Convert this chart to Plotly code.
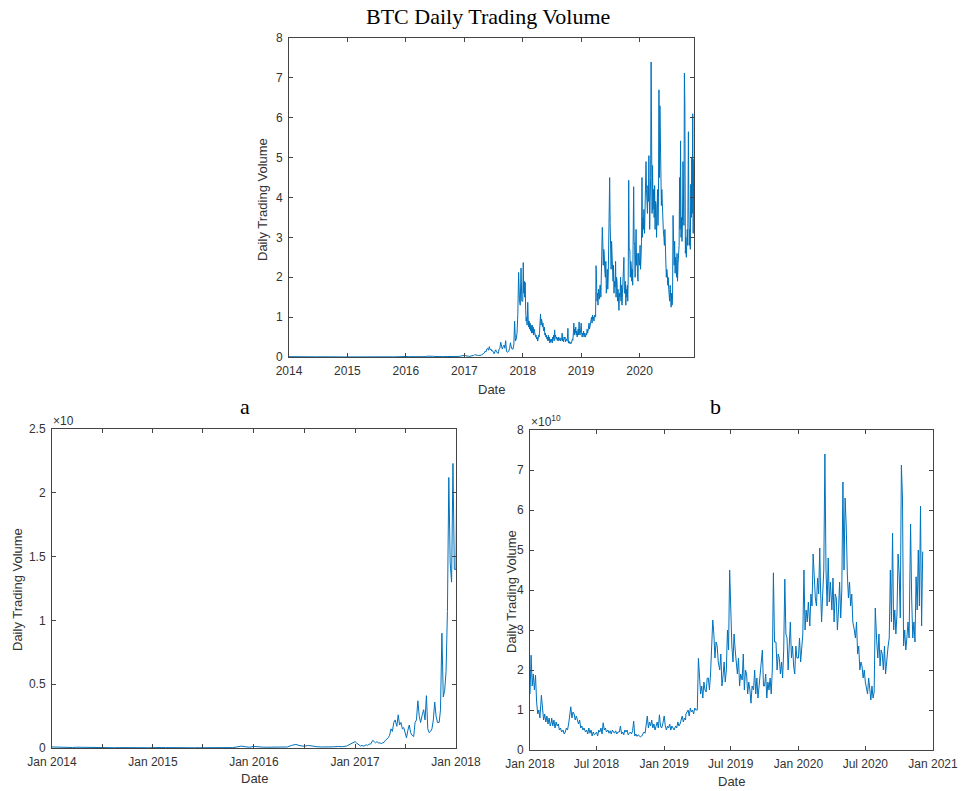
import plotly.graph_objects as go
from datetime import date

# ---------------- data (units of 1e10) ----------------
# 2014-2016: two samples per month (days 1 and 16)
vol_2014 = [0.008, 0.006, 0.009, 0.007, 0.005, 0.004, 0.006, 0.005, 0.004, 0.004, 0.006, 0.004,
            0.005, 0.003, 0.003, 0.002, 0.003, 0.002, 0.002, 0.003, 0.002, 0.002, 0.003, 0.002]
vol_2015 = [0.003, 0.006, 0.004, 0.003, 0.002, 0.003, 0.002, 0.002, 0.002, 0.002, 0.002, 0.002,
            0.003, 0.004, 0.003, 0.003, 0.004, 0.003, 0.004, 0.003, 0.008, 0.015, 0.010, 0.006]
vol_2016 = [0.012, 0.008, 0.007, 0.006, 0.006, 0.005, 0.005, 0.006, 0.008, 0.020, 0.028, 0.018,
            0.014, 0.020, 0.012, 0.010, 0.008, 0.007, 0.008, 0.009, 0.012, 0.010, 0.015, 0.030]
# 2017: six samples per month (days 1, 6, 11, 16, 21, 26)
vol_2017 = [0.05, 0.04, 0.03, 0.02, 0.015, 0.02,
            0.015, 0.02, 0.025, 0.02, 0.03, 0.03,
            0.04, 0.06, 0.05, 0.04, 0.05, 0.04,
            0.04, 0.035, 0.04, 0.045, 0.06, 0.07,
            0.08, 0.10, 0.15, 0.13, 0.20, 0.22,
            0.17, 0.26, 0.18, 0.20, 0.15, 0.16,
            0.12, 0.08, 0.14, 0.18, 0.12, 0.10,
            0.09, 0.20, 0.22, 0.37, 0.25, 0.20,
            0.26, 0.30, 0.22, 0.41, 0.15, 0.12,
            0.13, 0.15, 0.22, 0.36, 0.25, 0.20,
            0.20, 0.30, 0.90, 0.40, 0.45, 0.60,
            1.07, 2.12, 1.45, 1.30, 2.23, 1.40]
# 2018-2020: ten samples per month (days 1, 4, 7, ..., 28)
vol_2018 = [1.40, 2.37, 1.60, 1.90, 1.50, 1.87, 1.20, 0.90, 1.00, 0.80,
            1.37, 0.95, 0.75, 0.90, 0.70, 0.85, 0.65, 0.80, 0.60, 0.70,
            0.80, 0.60, 0.75, 0.55, 0.70, 0.60, 0.65, 0.50, 0.55, 0.45,
            0.50, 0.40, 0.45, 0.55, 0.50, 0.65, 0.90, 1.08, 0.80, 0.95,
            0.90, 0.75, 0.85, 0.70, 0.65, 0.75, 0.55, 0.60, 0.50, 0.55,
            0.45, 0.50, 0.40, 0.55, 0.42, 0.50, 0.35, 0.45, 0.38, 0.40,
            0.45, 0.35, 0.50, 0.45, 0.55, 0.40, 0.68, 0.50, 0.55, 0.45,
            0.50, 0.42, 0.48, 0.40, 0.50, 0.45, 0.42, 0.48, 0.40, 0.45,
            0.45, 0.60, 0.40, 0.45, 0.38, 0.50, 0.45, 0.50, 0.38, 0.42,
            0.45, 0.40, 0.48, 0.72, 0.35, 0.40, 0.34, 0.38, 0.35, 0.33,
            0.35, 0.40, 0.45, 0.42, 0.60, 0.85, 0.55, 0.70, 0.60, 0.75,
            0.55, 0.65, 0.50, 0.60, 0.70, 0.55, 0.88, 0.60, 0.55, 0.65]
vol_2019 = [0.85, 0.60, 0.50, 0.60, 0.55, 0.65, 0.50, 0.60, 0.55, 0.50,
            0.60, 0.55, 0.70, 0.60, 0.65, 0.75, 0.85, 0.70, 0.80, 0.75,
            0.90, 0.95, 1.00, 0.85, 1.05, 0.95, 1.00, 0.90, 1.05, 1.00,
            1.00, 2.29, 1.70, 1.40, 1.60, 1.30, 1.70, 1.50, 1.45, 1.80,
            1.80, 1.50, 1.90, 2.90, 3.25, 2.90, 2.30, 2.70, 2.60, 2.20,
            2.00, 2.40, 1.60, 1.85, 2.20, 1.70, 2.00, 3.00, 2.50, 4.50,
            3.35, 2.60, 2.20, 2.90, 2.50, 2.10, 1.90, 2.30, 1.60, 1.90,
            1.75, 2.40, 1.50, 2.00, 1.90, 1.40, 1.70, 1.50, 1.17, 1.60,
            1.50, 2.00, 1.40, 1.80, 1.30, 1.60, 1.90, 2.00, 2.50, 1.60,
            1.60, 1.90, 1.30, 1.70, 1.50, 1.80, 1.40, 2.00, 4.43, 2.70,
            2.70, 2.00, 2.40, 2.30, 1.90, 2.20, 1.80, 2.50, 4.27, 2.90,
            2.80, 2.00, 2.50, 3.20, 2.30, 2.60, 2.10, 1.90, 2.60, 2.30]
vol_2020 = [2.30, 2.80, 2.20, 2.50, 2.90, 4.50, 3.00, 3.50, 3.20, 3.70,
            3.10, 3.90, 3.60, 4.90, 4.20, 3.80, 3.60, 4.30, 3.90, 5.05,
            4.10, 3.20, 3.90, 4.50, 7.40, 4.50, 3.60, 4.80, 3.70, 4.20,
            3.50, 4.30, 3.20, 3.90, 3.80, 3.00, 3.50, 4.20, 3.30, 4.00,
            6.70, 4.50, 6.30, 5.60, 4.40, 3.80, 4.20, 3.60, 3.90, 3.20,
            3.00, 2.80, 3.20, 2.40, 2.60, 2.00, 2.20, 2.10, 1.80, 2.00,
            1.70, 1.50, 1.40, 1.80, 1.50, 1.25, 1.60, 1.30, 1.45, 3.55,
            2.70, 2.30, 2.90, 2.10, 2.50, 2.40, 2.00, 2.60, 1.90, 2.30,
            2.60, 2.80, 4.50, 3.20, 5.42, 3.00, 3.50, 2.90, 3.40, 4.90,
            4.40, 3.30, 7.12, 6.30, 2.60, 3.00, 2.50, 2.80, 3.20, 2.80,
            5.65, 3.80, 2.80, 3.20, 2.70, 4.33, 3.50, 5.00, 3.60, 6.10,
            3.10, 4.96]

# ---------------- build the sampled date series ----------------
def sample_dates(year, days):
    return [date(year, m, d).isoformat() for m in range(1, 13) for d in days]

dates, vols = [], []
for yr, v in [(2014, vol_2014), (2015, vol_2015), (2016, vol_2016)]:
    dates += sample_dates(yr, (1, 16))[:len(v)]
    vols += v
dates += sample_dates(2017, (1, 6, 11, 16, 21, 26))[:len(vol_2017)]
vols += vol_2017
for yr, v in [(2018, vol_2018), (2019, vol_2019), (2020, vol_2020)]:
    dates += sample_dates(yr, (1, 4, 7, 10, 13, 16, 19, 22, 25, 28))[:len(v)]
    vols += v

W, H = 961, 791
def px(x): return x / W
def py(y): return 1 - y / H

LINE = dict(color="#0072BD", width=1)
fig = go.Figure()
for xa, ya in [("x", "y"), ("x2", "y2"), ("x3", "y3")]:
    fig.add_trace(go.Scatter(x=dates, y=vols, mode="lines", line=LINE,
                             xaxis=xa, yaxis=ya, showlegend=False))

TICKFONT = dict(family="Liberation Sans, Arial, sans-serif", size=12, color="#333333")
def ax(**kw):
    d = dict(showline=True, linecolor="#444444", linewidth=1, mirror="ticks", ticks="inside",
             ticklen=4, tickcolor="#444444", showgrid=False, zeroline=False, tickfont=TICKFONT,
             fixedrange=True, automargin=False, ticklabelstandoff=3)
    d.update(kw)
    return d

a_tickvals = ["2014-01-01", "2014-07-01", "2015-01-01", "2015-07-01", "2016-01-01",
              "2016-07-01", "2017-01-01", "2017-07-01", "2018-01-01"]
a_ticktext = ["Jan 2014", "", "Jan 2015", "", "Jan 2016", "", "Jan 2017", "", "Jan 2018"]

fig.update_layout(
    width=W, height=H, margin=dict(l=0, r=0, t=0, b=0, autoexpand=False),
    paper_bgcolor="white", plot_bgcolor="white",
    xaxis=ax(domain=[px(289), px(694)], anchor="y", type="date",
             range=["2014-01-01", "2020-12-06"], dtick="M12", tick0="2014-01-01", tickformat="%Y"),
    yaxis=ax(domain=[py(357), py(38)], anchor="x", range=[0, 8], dtick=1),
    xaxis2=ax(domain=[px(52), px(456)], anchor="y2", type="date",
              range=["2014-01-01", "2018-01-01"], tickvals=a_tickvals, ticktext=a_ticktext),
    yaxis2=ax(domain=[py(748), py(429)], anchor="x2", range=[0, 2.5], dtick=0.5),
    xaxis3=ax(domain=[px(530), px(933)], anchor="y3", type="date",
              range=["2018-01-01", "2021-01-01"], dtick="M6", tick0="2018-01-01", tickformat="%b %Y"),
    yaxis3=ax(domain=[py(750), py(430)], anchor="x3", range=[0, 8], dtick=1),
)

LABEL = dict(family="Liberation Sans, Arial, sans-serif", size=13, color="#333333")
SERIF = dict(family="Liberation Serif, Times New Roman, serif", size=22, color="black")
def ann(text, x, y, font, angle=0, xanchor="center", yanchor="middle"):
    fig.add_annotation(text=text, x=px(x), y=py(y), xref="paper", yref="paper",
                       showarrow=False, font=font, textangle=angle,
                       xanchor=xanchor, yanchor=yanchor)

ann("BTC Daily Trading Volume", 488, 17, SERIF)
ann("a", 245, 407, SERIF)
ann("b", 715, 407, SERIF)
ann("Date", 491, 389, LABEL)
ann("Date", 254, 778, LABEL)
ann("Date", 731, 781, LABEL)
ann("Daily Trading Volume", 263, 200, LABEL, angle=-90)
ann("Daily Trading Volume", 17, 590, LABEL, angle=-90)
ann("Daily Trading Volume", 511, 592, LABEL, angle=-90)
EXPF = dict(family="Liberation Sans, Arial, sans-serif", size=12, color="#333333")
ann("×10", 51, 421, EXPF, xanchor="left")
ann("×10<sup>10</sup>", 529, 421, EXPF, xanchor="left")

fig.write_html("out.html")
